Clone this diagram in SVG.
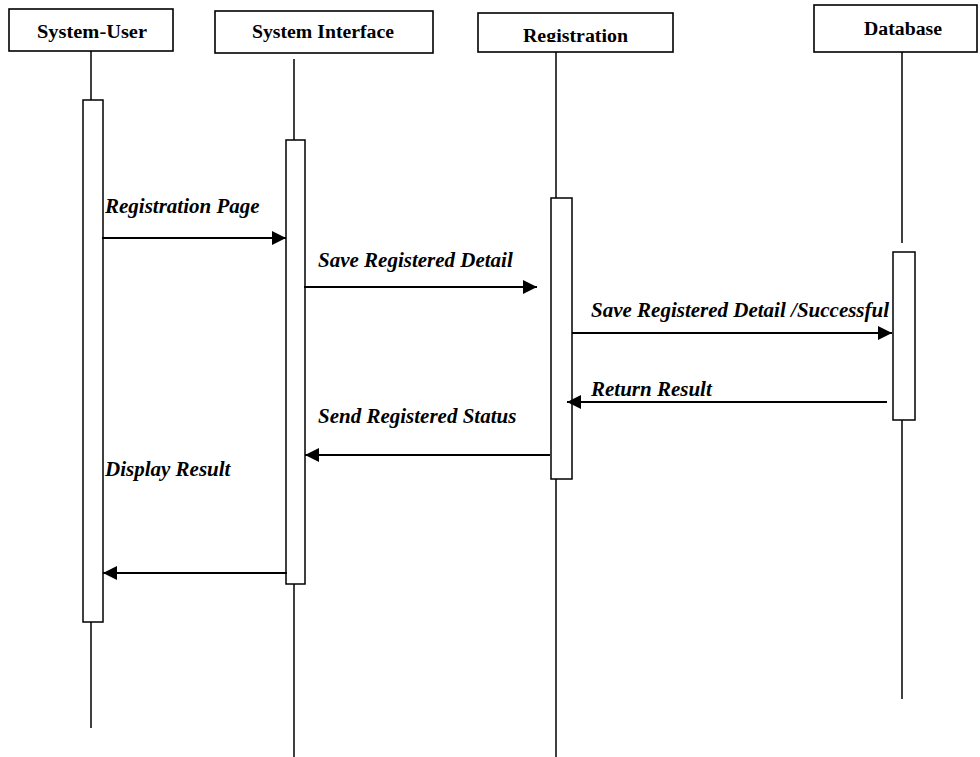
<svg xmlns="http://www.w3.org/2000/svg" width="980" height="757" viewBox="0 0 980 757">
<style>
.box{fill:#fff;stroke:#000;stroke-width:1.6}
.life{stroke:#000;stroke-width:1.5;fill:none}
.act{fill:#fff;stroke:#000;stroke-width:1.5}
.msg{stroke:#000;stroke-width:2;fill:none;marker-end:url(#ah)}
.hd{font-family:"Liberation Serif","Times New Roman",serif;font-weight:bold;font-size:18.5px;text-anchor:middle;fill:#000}
.lb{font-family:"Liberation Serif","Times New Roman",serif;font-weight:bold;font-style:italic;font-size:21px;fill:#000}
</style>
<defs>
<marker id="ah" markerUnits="userSpaceOnUse" markerWidth="14" markerHeight="14" refX="14" refY="7" orient="auto">
<path d="M0,0 L14,7 L0,14 z" fill="#000"/>
</marker>
<clipPath id="regclip"><rect x="478" y="13" width="195" height="29"/></clipPath>
</defs>
<rect width="980" height="757" fill="#fff"/>
<g id="system-user">
<rect class="box" x="9" y="9" width="164" height="42"/>
<text class="hd" x="92" y="38" textLength="110" lengthAdjust="spacingAndGlyphs">System-User</text>
<line class="life" x1="91" y1="51" x2="91" y2="728"/>
<rect class="act" x="83" y="100" width="20" height="522"/>
</g>
<g id="system-interface">
<rect class="box" x="215" y="11" width="218" height="42"/>
<text class="hd" x="323" y="38" textLength="142" lengthAdjust="spacingAndGlyphs">System Interface</text>
<line class="life" x1="294" y1="59" x2="294" y2="757"/>
<rect class="act" x="286" y="140" width="19" height="444"/>
</g>
<g id="registration">
<rect class="box" x="478" y="13" width="195" height="39"/>
<text class="hd" x="575.5" y="42" textLength="105" lengthAdjust="spacingAndGlyphs" clip-path="url(#regclip)">Registration</text>
<line class="life" x1="556" y1="52" x2="556" y2="757"/>
<rect class="act" x="551" y="198" width="21" height="281"/>
</g>
<g id="database">
<rect class="box" x="814" y="5" width="163" height="47"/>
<text class="hd" x="903" y="35" textLength="78" lengthAdjust="spacingAndGlyphs">Database</text>
<line class="life" x1="902" y1="52" x2="902" y2="243"/>
<line class="life" x1="902" y1="420" x2="902" y2="699"/>
<rect class="act" x="893" y="252" width="22" height="168"/>
</g>
<g id="connectors">
<line class="msg" x1="102" y1="238" x2="286" y2="238"/>
<line class="msg" x1="304" y1="287" x2="537" y2="287"/>
<line class="msg" x1="572" y1="333" x2="892" y2="333"/>
<line class="msg" x1="887" y1="402" x2="567" y2="402"/>
<line class="msg" x1="550" y1="455" x2="305" y2="455"/>
<line class="msg" x1="287" y1="573" x2="103" y2="573"/>
</g>
<g id="labels">
<text class="lb" x="105" y="213">Registration Page</text>
<text class="lb" x="318" y="267">Save Registered Detail</text>
<text class="lb" x="591" y="317">Save Registered Detail /Successful</text>
<text class="lb" x="591" y="396">Return Result</text>
<text class="lb" x="318" y="423">Send Registered Status</text>
<text class="lb" x="105" y="476">Display Result</text>
</g>
</svg>
